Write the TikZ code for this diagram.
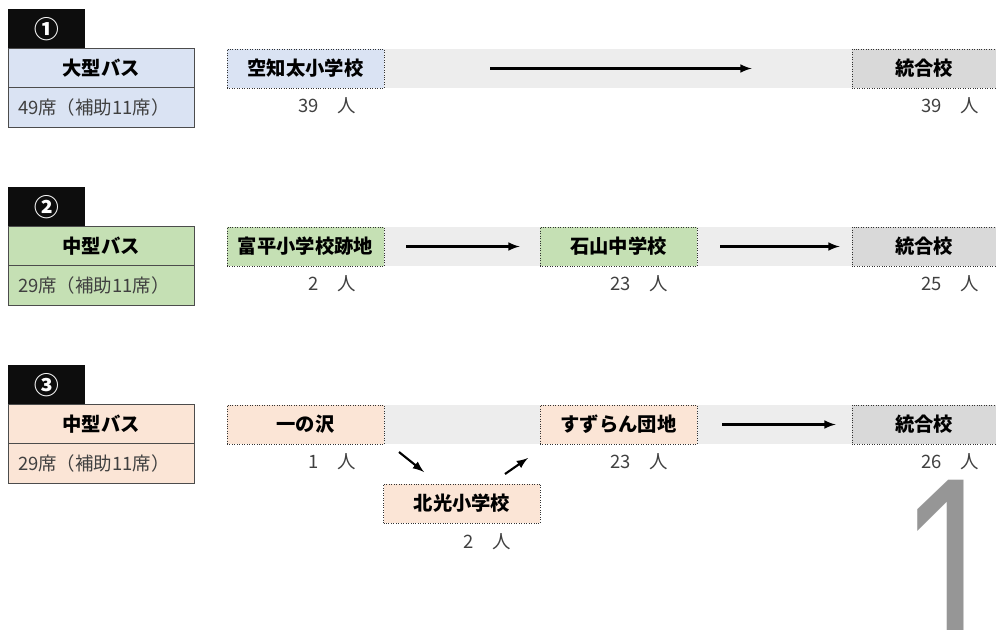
\documentclass[tikz,border=0pt]{standalone}
\usepackage{fontspec}
\setmainfont{Noto Sans CJK JP}
\newfontfamily\digitfont{Liberation Sans}
\usetikzlibrary{arrows,positioning}

\definecolor{busblue}{HTML}{DAE3F3}
\definecolor{busgreen}{HTML}{C5E0B4}
\definecolor{buspeach}{HTML}{FBE5D6}
\definecolor{bandgray}{HTML}{EDEDED}
\definecolor{goalgray}{HTML}{D9D9D9}
\definecolor{textgray}{HTML}{404040}
\definecolor{digitgray}{HTML}{969696}

\tikzset{
  tab/.style={fill=black!95, text=white, minimum width=1.54cm, minimum height=0.8cm, inner sep=0pt, font=\fontsize{14}{14}\selectfont\bfseries},
  bustype/.style={draw=black!70, minimum width=3.72cm, minimum height=0.79cm, inner sep=0pt, font=\fontsize{11}{11}\selectfont\bfseries},
  seats/.style={draw=black!70, minimum width=3.72cm, minimum height=0.79cm, inner xsep=0.2cm, inner ysep=0pt, text width=3.32cm, align=left, text=textgray, font=\fontsize{10.5}{10.5}\selectfont},
  stop/.style={draw=black!80, densely dotted, minimum width=3.14cm, minimum height=0.78cm, inner sep=0pt, font=\fontsize{11}{11}\selectfont\bfseries},
  goal/.style={stop, fill=goalgray, minimum width=2.88cm},
  count/.style={anchor=east, inner sep=0pt, text=textgray, font=\fontsize{10.5}{10.5}\selectfont},
  hop/.style={-latex, line width=1.2pt}
}

\begin{document}
\begin{tikzpicture}[x=0.02cm, y=-0.02cm]
  \useasboundingbox (0,0) rectangle (996,629);

  % bands
  \fill[bandgray] (227,49) rectangle (996,88);
  \fill[bandgray] (227,227) rectangle (996,266);
  \fill[bandgray] (227,405) rectangle (996,444);

  % route 1
  \draw (46.5,29) node[tab] (tab1) {①};
  \draw (101,68.5) node[bustype, fill=busblue] (bus1) {大型バス};
  \draw (101,107.5) node[seats, fill=busblue] (seat1) {49席（補助11席）};
  \draw (305.5,68.5) node[stop, fill=busblue] (sorachibuto) {空知太小学校};
  \draw (924,68.5) node[goal] (goal1) {統合校};
  \draw (356,106) node[count] (n1) {39　人};
  \draw (979,106) node[count] (g1) {39　人};
  \draw[hop, shorten <=2.12cm, shorten >=2cm] (sorachibuto) -- (goal1);

  % route 2
  \draw (46.5,207) node[tab] (tab2) {②};
  \draw (101,246.5) node[bustype, fill=busgreen] (bus2) {中型バス};
  \draw (101,285.5) node[seats, fill=busgreen] (seat2) {29席（補助11席）};
  \draw (305.5,246.5) node[stop, fill=busgreen] (tomihira) {富平小学校跡地};
  \draw (618.5,246.5) node[stop, fill=busgreen] (ishiyama) {石山中学校};
  \draw (924,246.5) node[goal] (goal2) {統合校};
  \draw (356,284) node[count] (n2) {2　人};
  \draw (668,284) node[count] (n3) {23　人};
  \draw (979,284) node[count] (g2) {25　人};
  \draw[hop, shorten <=0.44cm, shorten >=0.4cm] (tomihira) -- (ishiyama);
  \draw[hop, shorten <=0.46cm, shorten >=0.24cm] (ishiyama) -- (goal2);

  % route 3
  \draw (46.5,385) node[tab] (tab3) {③};
  \draw (101,424.5) node[bustype, fill=buspeach] (bus3) {中型バス};
  \draw (101,463.5) node[seats, fill=buspeach] (seat3) {29席（補助11席）};
  \draw (305.5,424.5) node[stop, fill=buspeach] (ichinosawa) {一の沢};
  \draw (618.5,424.5) node[stop, fill=buspeach] (suzuran) {すずらん団地};
  \draw (462,503.5) node[stop, fill=buspeach] (hokko) {北光小学校};
  \draw (924,424.5) node[goal] (goal3) {統合校};
  \draw (356,462) node[count] (n4) {1　人};
  \draw (668,462) node[count] (n5) {23　人};
  \draw (511,542) node[count] (n6) {2　人};
  \draw (979,462) node[count] (g3) {26　人};
  \coordinate (down1) at (399,452);
  \coordinate (down2) at (424,472);
  \coordinate (up1) at (505,474);
  \coordinate (up2) at (528,458);
  \draw[hop] (down1) -- (down2);
  \draw[hop] (up1) -- (up2);
  \draw[hop, shorten <=0.5cm, shorten >=0.32cm] (suzuran) -- (goal3);

  % page number
  \begin{scope}
    \clip (0,0) rectangle (996,629);
    \draw (952,480) node[anchor=north, inner sep=0pt, text=digitgray, xscale=0.72, font=\digitfont\fontsize{150}{150}\selectfont] (pageno) {1};
  \end{scope}
\end{tikzpicture}
\end{document}
